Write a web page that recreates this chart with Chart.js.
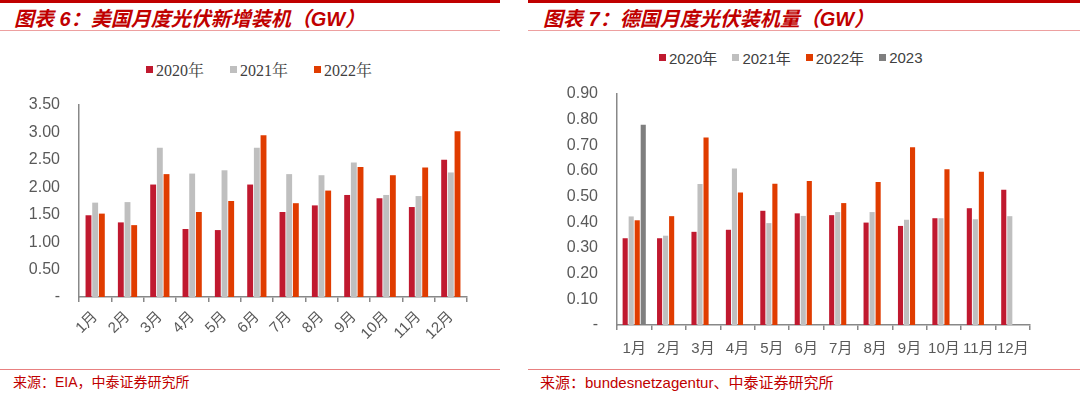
<!DOCTYPE html>
<html>
<head>
<meta charset="utf-8">
<script src="https://cdn.jsdelivr.net/npm/chart.js@4.4.0/dist/chart.umd.min.js"></script>
<style>
  body { margin: 0; width: 1080px; height: 393px; background: #fff; position: relative; overflow: hidden;
         font-family: "Liberation Sans", Arial, "Noto Sans CJK SC", sans-serif; }
  .abs { position: absolute; }
  .thick { height: 3px; background: #c00000; top: 0; }
  .thin { height: 1px; background: #eda0a0; }
  .title { top: 3px; font: italic bold 20px "Liberation Sans", "Noto Sans CJK SC", sans-serif; color: #c00000; white-space: nowrap; }
  .src { top: 371px; color: #c00000; white-space: nowrap; font-family: "Liberation Sans", "Noto Sans CJK SC", sans-serif; }
  .legend { display: flex; white-space: nowrap; color: #404040; align-items: center; }
  .legend .item { display: flex; align-items: center; }
  .legend .box { width: 7px; height: 7px; margin-right: 3px; }
  .chartbox { position: absolute; top: 0; }
</style>
</head>
<body>

<!-- frame lines -->
<div class="abs thick" style="left:0;width:500px"></div>
<div class="abs thick" style="left:528px;width:552px"></div>
<div class="abs thin" style="left:0;width:500px;top:30px"></div>
<div class="abs thin" style="left:528px;width:552px;top:30px"></div>
<div class="abs thin" style="left:0;width:500px;top:369px;background:#e88080"></div>
<div class="abs thin" style="left:528px;width:552px;top:369px;background:#e88080"></div>

<div class="abs title" style="left:14px">图表 6：美国月度光伏新增装机（GW）</div>
<div class="abs title" style="left:543px">图表 7：德国月度光伏装机量（GW）</div>

<div class="abs src" style="left:13px;font-size:14px">来源：EIA，中泰证券研究所</div>
<div class="abs src" style="left:540px;font-size:15px">来源：bundesnetzagentur、中泰证券研究所</div>

<div id="usLegend" class="abs legend" style="top:58px;left:146px;font:16px 'Liberation Serif','Noto Serif CJK SC','Noto Sans CJK SC',serif;gap:26px"></div>
<div id="deLegend" class="abs legend" style="top:47px;left:659px;font:15px 'Liberation Sans','Noto Sans CJK SC',sans-serif;gap:15px"></div>

<div class="chartbox" style="left:0;width:500px;height:345px"><canvas id="usChart"></canvas></div>
<div class="chartbox" style="left:520px;width:560px;height:365px"><canvas id="deChart"></canvas></div>

<script>
/* DATA */
const months = ["1月", "2月", "3月", "4月", "5月", "6月", "7月", "8月", "9月", "10月", "11月", "12月"];

// US monthly new PV installs (GW)
const usSeries = ["2020年", "2021年", "2022年"];
const us2020 = [1.49, 1.36, 2.05, 1.24, 1.22, 2.05, 1.55, 1.67, 1.86, 1.80, 1.64, 2.50];
const us2021 = [1.72, 1.73, 2.72, 2.25, 2.31, 2.72, 2.24, 2.22, 2.45, 1.86, 1.84, 2.27];
const us2022 = [1.52, 1.31, 2.24, 1.55, 1.75, 2.95, 1.71, 1.94, 2.37, 2.22, 2.36, 3.02];

// Germany monthly PV installs (GW)
const deSeries = ["2020年", "2021年", "2022年", "2023"];
const de2020 = [0.338, 0.338, 0.363, 0.371, 0.445, 0.435, 0.428, 0.399, 0.386, 0.416, 0.455, 0.527];
const de2021 = [0.423, 0.348, 0.549, 0.610, 0.397, 0.425, 0.440, 0.440, 0.410, 0.416, 0.412, 0.424];
const de2022 = [0.408, 0.424, 0.731, 0.516, 0.550, 0.561, 0.475, 0.557, 0.693, 0.607, 0.597, null];
const de2023 = [0.780, null, null, null, null, null, null, null, null, null, null, null];

/* STYLE */
const COLORS = ["#c0192f", "#bfbfbf", "#e03c00", "#7f7f7f"];
const AXIS = "#888888";
const TICK = "#595959";

/* LEGENDS (html) */
function buildLegend(el, names) {
  names.forEach((n, i) => {
    const item = document.createElement("span");
    item.className = "item";
    item.innerHTML = `<span class="box" style="background:${COLORS[i]}"></span>${n}`;
    el.appendChild(item);
  });
}
buildLegend(document.getElementById("usLegend"), usSeries);
buildLegend(document.getElementById("deLegend"), deSeries);

/* CHARTS */
function makeChart(id, series, values, cfg) {
  return new Chart(document.getElementById(id).getContext("2d"), {
    type: "bar",
    data: {
      labels: months,
      datasets: series.map((name, i) => ({
        label: name,
        data: values[i],
        backgroundColor: COLORS[i],
        categoryPercentage: cfg.catPct,
        barPercentage: cfg.barPct
      }))
    },
    options: {
      responsive: true,
      maintainAspectRatio: false,
      animation: false,
      layout: { padding: cfg.padding },
      plugins: { legend: { display: false }, tooltip: { enabled: false } },
      scales: {
        x: {
          grid: { display: true, drawOnChartArea: false, drawTicks: true, tickLength: 5, color: AXIS, lineWidth: 1.5, offset: true },
          border: { color: AXIS, width: 1.5 },
          ticks: { color: TICK, font: { size: 15, family: "'Liberation Sans', 'Noto Sans CJK SC', sans-serif" },
                   padding: cfg.xPad, maxRotation: cfg.rot, minRotation: cfg.rot, autoSkip: false },
          afterFit: s => { s.height = cfg.xHeight; }
        },
        y: {
          min: 0,
          max: cfg.max,
          grid: { display: false, drawTicks: false },
          border: { color: AXIS, width: 1.5 },
          ticks: { stepSize: cfg.step, color: TICK, padding: cfg.yPad,
                   font: { size: 16, family: "'Liberation Sans', sans-serif" },
                   callback: v => (v === 0 ? "-" : v.toFixed(2)) },
          afterFit: s => { s.width = cfg.yWidth; }
        }
      }
    }
  });
}

makeChart("usChart", usSeries, [us2020, us2021, us2022], {
  catPct: 0.62, barPct: 0.88, max: 3.5, step: 0.5,
  padding: { top: 105, right: 33, left: 0, bottom: 0 },
  xHeight: 48, yWidth: 79, xPad: 6, yPad: 19, rot: 45
});

makeChart("deChart", deSeries, [de2020, de2021, de2022, de2023], {
  catPct: 0.70, barPct: 0.85, max: 0.9, step: 0.1,
  padding: { top: 94, right: 50, left: 0, bottom: 0 },
  xHeight: 40, yWidth: 97, xPad: 10, yPad: 19, rot: 0
});
</script>
</body>
</html>
